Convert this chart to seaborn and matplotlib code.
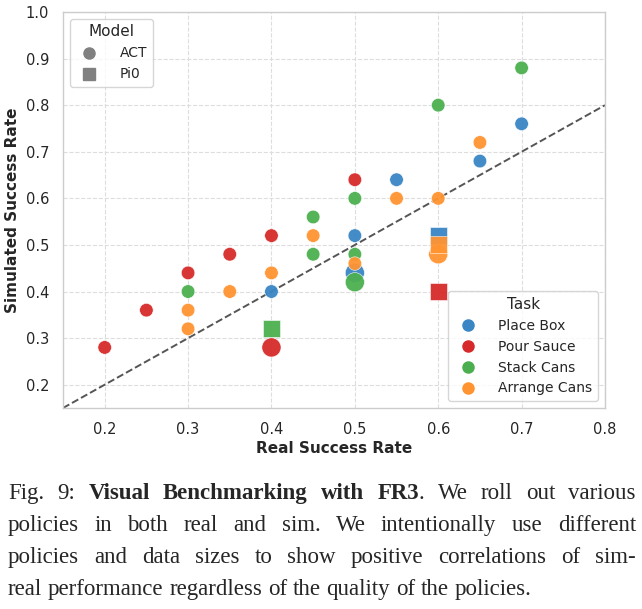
import numpy as np
import pandas as pd
import matplotlib.pyplot as plt
import seaborn as sns
from matplotlib.lines import Line2D

# ---- data ----
tasks = ["Place Box", "Pour Sauce", "Stack Cans", "Arrange Cans"]
task_colors = ["#3a86c4", "#d62a2a", "#4caf4f", "#ff9431"]

real_place = [0.4, 0.5, 0.55, 0.65, 0.7, 0.5, 0.6]
sim_place = [0.40, 0.52, 0.64, 0.68, 0.76, 0.44, 0.52]
model_place = ["ACT", "ACT", "ACT", "ACT", "ACT", "ACT", "Pi0"]
big_place = [0, 0, 0, 0, 0, 1, 0]

real_pour = [0.2, 0.25, 0.3, 0.35, 0.4, 0.5, 0.4, 0.6]
sim_pour = [0.28, 0.36, 0.44, 0.48, 0.52, 0.64, 0.28, 0.40]
model_pour = ["ACT", "ACT", "ACT", "ACT", "ACT", "ACT", "ACT", "Pi0"]
big_pour = [0, 0, 0, 0, 0, 0, 1, 0]

real_stack = [0.3, 0.45, 0.45, 0.5, 0.5, 0.6, 0.7, 0.5, 0.4]
sim_stack = [0.40, 0.56, 0.48, 0.60, 0.48, 0.80, 0.88, 0.42, 0.32]
model_stack = ["ACT", "ACT", "ACT", "ACT", "ACT", "ACT", "ACT", "ACT", "Pi0"]
big_stack = [0, 0, 0, 0, 0, 0, 0, 1, 0]

real_arrange = [0.3, 0.3, 0.35, 0.4, 0.45, 0.5, 0.55, 0.6, 0.65, 0.6, 0.6]
sim_arrange = [0.36, 0.32, 0.40, 0.44, 0.52, 0.46, 0.60, 0.60, 0.72, 0.48, 0.50]
model_arrange = ["ACT"] * 10 + ["Pi0"]
big_arrange = [0, 0, 0, 0, 0, 0, 0, 0, 0, 1, 0]

frames = []
for t, rx, sy, m, b in [
    ("Place Box", real_place, sim_place, model_place, big_place),
    ("Pour Sauce", real_pour, sim_pour, model_pour, big_pour),
    ("Stack Cans", real_stack, sim_stack, model_stack, big_stack),
    ("Arrange Cans", real_arrange, sim_arrange, model_arrange, big_arrange),
]:
    frames.append(pd.DataFrame({"real": rx, "sim": sy, "Model": m, "big": b, "Task": t}))
df = pd.concat(frames, ignore_index=True)
df["size"] = np.where(df["Model"] == "Pi0", 150, np.where(df["big"] == 1, 190, 95))

sns.set_theme(style="whitegrid")
plt.rcParams["font.family"] = "sans-serif"
plt.rcParams["font.sans-serif"] = ["DejaVu Sans"]

fig = plt.figure(figsize=(6.42, 6.09), dpi=100)
ax = fig.add_axes([63 / 642, 1 - 408 / 609, (605 - 63) / 642, (408 - 12) / 609])

palette = dict(zip(tasks, task_colors))
for model, marker in [("ACT", "o"), ("Pi0", "s")]:
    sub = df[df["Model"] == model]
    sns.scatterplot(data=sub, x="real", y="sim", hue="Task", palette=palette,
                    s=sub["size"].values, marker=marker, alpha=0.95,
                    edgecolor="white", linewidth=0.4, legend=False, ax=ax, zorder=3)

ax.plot([0.15, 0.8], [0.15, 0.8], linestyle="--", color="#555555", linewidth=1.4, zorder=2)

ax.set_xlim(0.15, 0.8)
ax.set_ylim(0.15, 1.0)
ax.set_xticks([0.2, 0.3, 0.4, 0.5, 0.6, 0.7, 0.8])
ax.set_yticks([0.2, 0.3, 0.4, 0.5, 0.6, 0.7, 0.8, 0.9, 1.0])
ax.tick_params(labelsize=10.5, colors="#262626", pad=4)
ax.grid(True, linestyle="--", color="#dddddd", linewidth=0.8)
for sp in ax.spines.values():
    sp.set_color("#cccccc")
    sp.set_linewidth(1.0)
ax.set_xlabel("Real Success Rate", fontsize=11, fontweight="bold", labelpad=3)
ax.set_ylabel("Simulated Success Rate", fontsize=11, fontweight="bold", labelpad=4)

model_handles = [
    Line2D([], [], marker="o", linestyle="", color="gray", markersize=8, label="ACT"),
    Line2D([], [], marker="s", linestyle="", color="gray", markersize=8, label="Pi0"),
]
leg1 = ax.legend(handles=model_handles, title="Model", loc="upper left", fontsize=10,
                 title_fontsize=11, frameon=True, borderpad=0.4, handletextpad=1.2)
ax.add_artist(leg1)
task_handles = [Line2D([], [], marker="o", linestyle="", color=c, markersize=8, label=t)
                for t, c in zip(tasks, task_colors)]
ax.legend(handles=task_handles, title="Task", loc="lower right", fontsize=10,
          title_fontsize=11, frameon=True, borderpad=0.4, handletextpad=1.2)

# ---- caption, justified word by word ----
serif = ["Liberation Serif", "DejaVu Serif"]
cap_lines = [
    [("Fig.", "normal"), ("9:", "normal"), ("Visual", "bold"), ("Benchmarking", "bold"),
     ("with", "bold"), ("FR3.", "mixed"), ("We", "normal"), ("roll", "normal"),
     ("out", "normal"), ("various", "normal")],
    [(w, "normal") for w in "policies in both real and sim. We intentionally use different".split()],
    [(w, "normal") for w in "policies and data sizes to show positive correlations of sim-".split()],
    [(w, "normal") for w in "real performance regardless of the quality of the policies.".split()],
]
x_left, x_right = 8, 636
y_base = [499, 531, 563, 595]
fs = 16.5
fig.canvas.draw()
renderer = fig.canvas.get_renderer()
for li, words in enumerate(cap_lines):
    arts = []
    for w, wt in words:
        if wt == "mixed":
            a = fig.text(0, 0, "FR3", fontsize=fs, family=serif, fontweight="bold")
            b = fig.text(0, 0, ".", fontsize=fs, family=serif)
            arts.append([a, b])
        else:
            arts.append([fig.text(0, 0, w, fontsize=fs, family=serif, fontweight=wt)])
    widths = []
    for group in arts:
        widths.append([g.get_window_extent(renderer).width for g in group])
    total = sum(sum(w) for w in widths)
    if li < len(cap_lines) - 1:
        gap = (x_right - x_left - total) / (len(words) - 1)
    else:
        gap = fs * 0.25 * 100 / 72
    x = x_left
    for group, ws in zip(arts, widths):
        for g, wdt in zip(group, ws):
            g.set_position((x / 642, 1 - y_base[li] / 609))
            x += wdt
        x += gap

fig.savefig("out.png", dpi=100)
